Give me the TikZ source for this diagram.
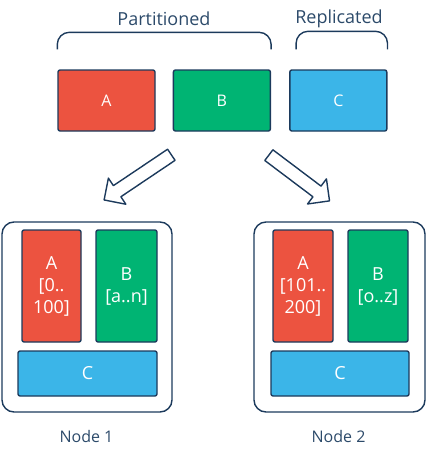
\documentclass[tikz,border=0pt]{standalone}
\usepackage{fontspec}
\setmainfont{Open Sans}
\usetikzlibrary{shapes.arrows}
\usetikzlibrary{positioning}

\definecolor{inkblue}{HTML}{1C3A5C}
\definecolor{textblue}{HTML}{2C4A6A}
\definecolor{partred}{HTML}{EC5340}
\definecolor{partgreen}{HTML}{00B473}
\definecolor{repblue}{HTML}{3BB5E8}

\begin{document}
\begin{tikzpicture}[x=1pt,y=-1pt,line join=round,
                    draw=inkblue,line width=1.4pt,
                    top box/.style={rectangle,draw=inkblue,rounded corners=2pt,text=white,
                      minimum width=97pt,minimum height=61pt,font=\fontsize{16}{19}\selectfont},
                    shard box/.style={rectangle,draw=inkblue,rounded corners=2pt,text=white,
                      align=center,minimum height=112pt,inner sep=0pt,
                      font=\fontsize{18}{22}\selectfont},
                    rep box/.style={shard box,fill=repblue,minimum height=45pt},
                    node frame/.style={rectangle,draw=inkblue,rounded corners=12pt,
                      minimum width=170pt,minimum height=190pt},
                    big arrow/.style={single arrow,draw=inkblue,fill=white,inner xsep=0pt,
                      inner ysep=6pt,single arrow head extend=9pt,
                      single arrow head indent=0pt},
                    bracket/.style={draw=inkblue,line width=1.4pt,rounded corners=12pt},
                    caption/.style={text=textblue,font=\fontsize{18}{22}\selectfont}]

  \useasboundingbox (0,0) rectangle (426,456);

  % source tables
  \node[top box,fill=partred] (A) at (106.5,100.5) {A};
  \node[top box,fill=partgreen] (B) [right=17pt of A] {B};
  \node[top box,fill=repblue] (C) [right=18pt of B] {C};

  \draw[bracket] ([yshift=20pt]A.north west) -- ([yshift=37pt]A.north west)
    -- ([yshift=37pt]B.north east) -- ([yshift=20pt]B.north east);
  \draw[bracket] ([xshift=7pt,yshift=20pt]C.north west) -- ([xshift=7pt,yshift=38pt]C.north west)
    -- ([yshift=38pt]C.north east) -- ([yshift=20pt]C.north east);
  \node[caption] (part) at (164,19) {Partitioned};
  \node[caption] (repl) at (339,19) {Replicated};

  % distribution arrows
  \node[big arrow,minimum height=81pt,rotate=213.9] (toleft) at (140.5,175.5) {};
  \node[big arrow,minimum height=76pt,rotate=-37] (toright) at (296.5,176) {};

  % node 1
  \node[node frame] (n1) at (87,317) {};
  \node[shard box,fill=partred,minimum width=59pt] (a1) at (51.5,286) {A\\{[0..}\\100]};
  \node[shard box,fill=partgreen,minimum width=61pt] (b1) at (126.5,286) {B\\{[a..n]}};
  \node[rep box,minimum width=139pt] (c1) at (87.5,373.5) {C};
  \node[caption,font=\fontsize{16}{19}\selectfont] (l1) at (86.5,436.5) {Node 1};

  % node 2
  \node[node frame,minimum width=171pt] (n2) at (339.5,317) {};
  \node[shard box,fill=partred,minimum width=60pt] (a2) at (303,286) {A\\{[101..}\\200]};
  \node[shard box,fill=partgreen,minimum width=60pt] (b2) at (378,286) {B\\{[o..z]}};
  \node[rep box,minimum width=138pt] (c2) at (340,373.5) {C};
  \node[caption,font=\fontsize{16}{19}\selectfont] (l2) at (338.5,436.5) {Node 2};
\end{tikzpicture}
\end{document}
